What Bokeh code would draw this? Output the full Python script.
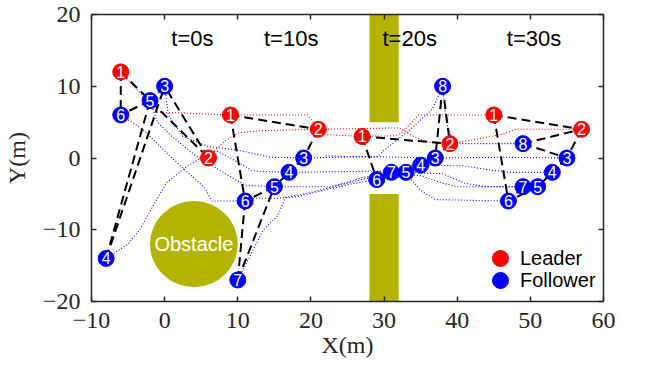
from bokeh.plotting import figure
from bokeh.models import (Range1d, LinearAxis, FixedTicker, ColumnDataSource,
                          Legend, LegendItem)
from bokeh.embed import file_html
from bokeh.resources import INLINE
from bokeh.core.properties import value

# ---------------- data ----------------
x_ticks = [-10, 0, 10, 20, 30, 40, 50, 60]
y_ticks = [-20, -10, 0, 10, 20]

snap_labels = ["t=0s", "t=10s", "t=20s", "t=30s"]
snap_label_x = [3.8, 17.3, 33.5, 50.5]
snap_label_y = [16.7, 16.7, 16.7, 16.7]

# obstacles
circle_x = [4]
circle_y = [-12]
circle_d = [12]
wall_left = [28, 28]
wall_right = [32, 32]
wall_bottom = [5, -20]
wall_top = [20, -5]

# leaders at each snapshot (ids 1, 2)
leader_ids = [1, 2]
leader_x = [[-6, 6], [9, 21], [27, 39], [45, 57]]
leader_y = [[12, 0], [6, 4], [3, 2], [6, 4]]

# followers at each snapshot
follower_ids = [[3, 4, 5, 6], [3, 4, 5, 6, 7], [3, 4, 5, 6, 7, 8], [3, 4, 5, 6, 7, 8]]
follower_x = [[0, -8, -2, -6], [19, 17, 15, 11, 10], [37, 35, 33, 29, 31, 38], [55, 53, 51, 47, 49, 49]]
follower_y = [[10, -14, 8, 6], [0, -2, -4, -6, -17], [0, -1, -2, -3, -2, 10], [0, -2, -4, -6, -4, 2]]

# formation links at each snapshot
links_t0 = [(1, 2), (1, 6), (2, 3), (3, 5), (5, 6), (4, 3), (4, 5)]
links_t10 = [(1, 2), (1, 6), (2, 3), (3, 4), (4, 5), (3, 5), (5, 6), (7, 5), (7, 6)]
links_t20 = [(1, 2), (1, 6), (2, 3), (3, 4), (4, 5), (3, 5), (5, 6), (7, 5), (7, 6), (8, 2), (8, 3)]
links_t30 = [(1, 2), (1, 6), (2, 3), (3, 4), (4, 5), (3, 5), (5, 6), (7, 5), (7, 6), (8, 2), (8, 3)]

# trajectories (leaders)
path1_x = [-6, -1, 9, 19.5, 20.5, 21.5, 27, 31.5, 32.5, 34.7, 45]
path1_y = [12, 6.4, 6, 6, 4.8, 3.3, 3, 3.1, 3.6, 6, 6]
path2_x = [6, 6.9, 8.3, 10.1, 13, 21, 32, 34, 36, 39, 42, 46.5, 48, 57]
path2_y = [0, 1.1, 2.4, 3.5, 3.8, 4, 4.2, 3, 2.2, 2, 2.5, 3.4, 4, 4]
# trajectories (followers)
path3_x = [0, 0.5, 2.5, 6, 10, 14.5, 19, 28, 37, 46, 55]
path3_y = [10, 6, 3, 1.6, 1.1, 0.1, 0, 0.2, 0, 0.1, 0]
path4_x = [-8, -5, -3.4, -1.5, 0.3, 3, 5, 7, 9, 12, 17, 31.5, 33, 35, 41, 44, 47, 53]
path4_y = [-14, -12, -10, -6.5, -3.4, -1.2, 0, 1, 0, -1.8, -2, -1.8, -1, -1, -1.1, -1.6, -2, -2]
path5_x = [-2, -1, 1, 4, 8, 11, 15, 22.6, 24.9, 27.1, 30, 33, 38, 41, 44, 51]
path5_y = [8, 5, 3, 0.5, -2, -3.8, -4, -4, -3.4, -2.7, -2.3, -2, -2.2, -3.5, -4, -4]
path6_x = [-6, -3, 1, 5.5, 6.5, 11, 12.4, 15.5, 18, 22.6, 26, 29, 33.3, 35, 37, 47]
path6_y = [6, 4, 0, -4.2, -6, -6, -5.6, -5.6, -5.4, -4.3, -3.5, -3, -2.5, -4.5, -5.8, -6]
path7_x = [10, 12, 13.5, 15.5, 16.5, 20, 25, 31, 35.2, 38, 40, 49]
path7_y = [-17, -13, -10, -8, -5.5, -4.8, -3.5, -2, -2.5, -3.5, -4, -4]
path8_x = [22, 28.9, 31.6, 33.3, 35.2, 36.6, 38, 38.5, 39.5, 41, 49]
path8_y = [0.3, 0.1, 2.4, 3.7, 5.5, 6.8, 10, 5, 2.2, 2, 2]

# ---------------- build ----------------
RED = "#FF0000"
BLUE = "#0000FF"
OLIVE = "#B4B400"
AX = "#262626"

p = figure(width=632, height=367, x_range=Range1d(-10, 60), y_range=Range1d(-20, 20),
           output_backend="svg", toolbar_location=None,
           min_border_left=83, min_border_right=29, min_border_top=14, min_border_bottom=66,
           background_fill_color="white", border_fill_color="white")
p.outline_line_color = None
p.xgrid.visible = False
p.ygrid.visible = False


def style_axis(ax, ticks, show_labels):
    ax.ticker = FixedTicker(ticks=ticks)
    ax.axis_line_color = AX
    ax.axis_line_width = 1.5
    ax.major_tick_line_color = AX
    ax.major_tick_line_width = 1.5
    ax.major_tick_in = 5
    ax.major_tick_out = 0
    ax.minor_tick_line_color = None
    if show_labels:
        ax.major_label_text_font = "Liberation Serif"
        ax.major_label_text_font_size = "24px"
        ax.major_label_text_color = AX
        ax.axis_label_text_font = "Liberation Serif"
        ax.axis_label_text_font_size = "24px"
        ax.axis_label_text_font_style = "normal"
        ax.axis_label_text_color = AX
    else:
        ax.major_label_text_font_size = "1px"
        ax.major_label_text_color = None
        ax.major_label_standoff = 0


style_axis(p.xaxis[0], x_ticks, True)
style_axis(p.yaxis[0], y_ticks, True)
p.xaxis.axis_label = "X(m)"
p.yaxis.axis_label = "Y(m)"
p.xaxis.major_label_standoff = 11
p.xaxis.axis_label_standoff = 1
p.yaxis.major_label_standoff = 11
p.yaxis.axis_label_standoff = 10

top_ax = LinearAxis()
style_axis(top_ax, x_ticks, False)
p.add_layout(top_ax, "above")
right_ax = LinearAxis()
style_axis(right_ax, y_ticks, False)
p.add_layout(right_ax, "right")

# obstacles
p.quad(left=wall_left, right=wall_right, bottom=wall_bottom, top=wall_top,
       fill_color=OLIVE, line_color=None)
p.ellipse(x=circle_x, y=circle_y, width=circle_d, height=circle_d,
          fill_color=OLIVE, line_color=None)
p.text(x=circle_x, y=circle_y, text=["Obstacle"], text_color="white",
       text_font=value("Liberation Sans"), text_font_size="20px",
       text_align="center", text_baseline="middle")

# trajectories
dot = "1 2"
for xs, ys in [(path1_x, path1_y), (path2_x, path2_y)]:
    p.line(xs, ys, line_color=RED, line_width=1.1, line_dash=dot)
for xs, ys in [(path3_x, path3_y), (path4_x, path4_y), (path5_x, path5_y),
               (path6_x, path6_y), (path7_x, path7_y), (path8_x, path8_y)]:
    p.line(xs, ys, line_color=BLUE, line_width=1.1, line_dash=dot)

# formation links
links = [links_t0, links_t10, links_t20, links_t30]
lx, ly = [], []
for k in range(4):
    pos = {}
    for i, idx in enumerate(leader_ids):
        pos[idx] = (leader_x[k][i], leader_y[k][i])
    for i, idx in enumerate(follower_ids[k]):
        pos[idx] = (follower_x[k][i], follower_y[k][i])
    for a, b in links[k]:
        lx.append([pos[a][0], pos[b][0]])
        ly.append([pos[a][1], pos[b][1]])
p.multi_line(lx, ly, line_color="black", line_width=2, line_dash="9 5")

# agents
lead = dict(x=[], y=[], t=[])
foll = dict(x=[], y=[], t=[])
for k in range(4):
    for i, idx in enumerate(leader_ids):
        lead["x"].append(leader_x[k][i]); lead["y"].append(leader_y[k][i]); lead["t"].append(str(idx))
    for i, idx in enumerate(follower_ids[k]):
        foll["x"].append(follower_x[k][i]); foll["y"].append(follower_y[k][i]); foll["t"].append(str(idx))
src_l = ColumnDataSource(lead)
src_f = ColumnDataSource(foll)

rl = p.scatter("x", "y", source=src_l, size=16, fill_color=RED, line_color=RED)
p.text("x", "y", text="t", source=src_l, text_color="white",
       text_font=value("Liberation Sans"), text_font_size="16px",
       text_align="center", text_baseline="middle")
rf = p.scatter("x", "y", source=src_f, size=16, fill_color=BLUE, line_color=BLUE)
p.text("x", "y", text="t", source=src_f, text_color="white",
       text_font=value("Liberation Sans"), text_font_size="16px",
       text_align="center", text_baseline="middle")

# snapshot labels
p.text(x=snap_label_x, y=snap_label_y, text=snap_labels, text_color="black",
       text_font=value("Liberation Sans"), text_font_size="22px",
       text_align="center", text_baseline="middle")


def make_legend(label, renderer, offset):
    return Legend(items=[LegendItem(label=label, renderers=[renderer])],
                  location=(389, offset), orientation="vertical",
                  glyph_width=40, glyph_height=40, label_standoff=-5,
                  padding=0, margin=0, border_line_color=None,
                  background_fill_alpha=0,
                  label_text_font="Liberation Sans", label_text_font_size="20px",
                  label_text_color="black")


p.add_layout(make_legend("Leader", rl, 23))
p.add_layout(make_legend("Follower", rf, 1))

open("out.html", "w").write(file_html(p, INLINE))
